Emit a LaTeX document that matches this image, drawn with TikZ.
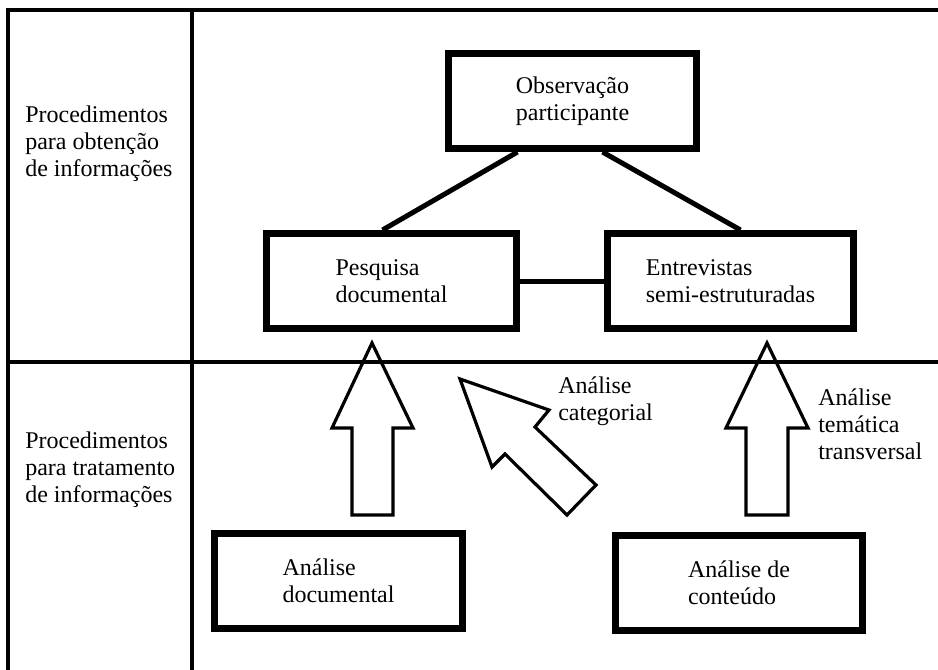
\documentclass[tikz,border=0pt]{standalone}
\usepackage{fontspec}
\setmainfont{Liberation Serif}
\usetikzlibrary{calc}
\begin{document}
\begin{tikzpicture}[x=0.75pt,y=-0.75pt,
  tableline/.style={line width=2.4pt},
  boxnode/.style={draw,line width=5.25pt,inner sep=0pt,align=left,font=\fontsize{18}{20.25}\selectfont},
  txt/.style={inner sep=0pt,align=left,font=\fontsize{18}{20.25}\selectfont},
  conn/.style={line width=3.75pt},
  bigarrow/.style={draw,line width=2.4pt,miter limit=10}]
\useasboundingbox (0,0) rectangle (938,670);
% table
\coordinate (tl) at (8,10);
\coordinate (tr) at (940,10);
\coordinate (bl) at (8,672);
\coordinate (dt) at (192,10);
\coordinate (db) at (192,672);
\coordinate (ml) at (8,362);
\coordinate (mr) at (940,362);
\draw[tableline] (bl) -- (tl) -- (tr);
\draw[tableline] (dt) -- (db);
\draw[tableline] (ml) -- (mr);
% left column text
\node[txt,anchor=west] (t1) at (25,144) {Procedimentos\\para obtenção\\de informações};
\node[txt,anchor=west] (t2) at (25,470) {Procedimentos\\para tratamento\\de informações};
% boxes
\node[boxnode,minimum width=186pt,minimum height=71.25pt] (obs) at (572.5,101) {Observação\\participante};
\node[boxnode,minimum width=187.5pt,minimum height=71.25pt] (pesq) at (391.5,281) {Pesquisa\\documental};
\node[boxnode,minimum width=184.5pt,minimum height=71.25pt] (ent) at (730.5,281) {Entrevistas\\semi-estruturadas};
\node[boxnode,minimum width=186pt,minimum height=71.25pt] (adoc) at (338.5,581) {Análise\\documental};
\node[boxnode,minimum width=185.25pt,minimum height=71.25pt] (acont) at (739,583) {Análise de\\conteúdo};
% connectors
\draw[conn] ($(obs.south)+(-55,0)$) -- ($(pesq.north)+(-9,0)$);
\draw[conn] ($(obs.south)+(30,0)$) -- ($(ent.north)+(10,0)$);
\draw[conn] (pesq.east) -- (ent.west);
% big arrows
\draw[bigarrow] (372,343) -- (413,428) -- (393,428) -- (393,515) -- (352,515) -- (352,428) -- (332,428) -- cycle;
\draw[bigarrow] (460,379) -- (549,410) -- (535,427) -- (596,485) -- (567,515) -- (505,454) -- (492,467) -- cycle;
\draw[bigarrow] (767,343) -- (808,428) -- (788,428) -- (788,515) -- (746,515) -- (746,428) -- (726,428) -- cycle;
% labels
\node[txt,anchor=west] (l1) at (558,401) {Análise\\categorial};
\node[txt,anchor=west] (l2) at (818,424) {Análise\\temática\\transversal};
\end{tikzpicture}
\end{document}
